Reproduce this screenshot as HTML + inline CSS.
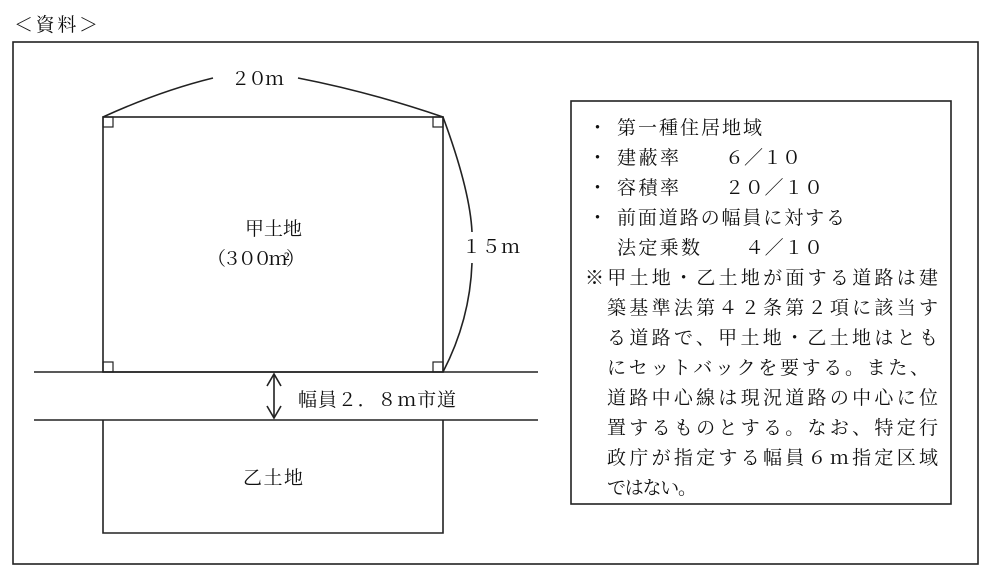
<!DOCTYPE html>
<html><head><meta charset="utf-8"><style>
html,body{margin:0;padding:0;background:#fff;width:990px;height:581px;overflow:hidden}
svg text{font-family:"Liberation Serif","Noto Serif CJK SC","Noto Sans CJK JP",serif;fill:#111;font-size:19px}
</style></head><body>
<svg width="990" height="581" viewBox="0 0 990 581" xmlns="http://www.w3.org/2000/svg">
<g fill="none" stroke="#222" stroke-width="1.6">
<rect x="13" y="42" width="965" height="522"/>
<rect x="103" y="117" width="340" height="255"/>
<path d="M103 420 V533 H443 V420"/>
<line x1="34" y1="372" x2="538" y2="372"/>
<line x1="34" y1="420" x2="538" y2="420"/>
<rect x="103" y="117" width="10" height="10" stroke-width="1.2"/>
<rect x="433" y="117" width="10" height="10" stroke-width="1.2"/>
<rect x="103" y="362" width="10" height="10" stroke-width="1.2"/>
<rect x="433" y="362" width="10" height="10" stroke-width="1.2"/>
<path d="M103 117 Q160 91 213 78" />
<path d="M298 78 Q370 92 443 117" />
<path d="M443 117 Q470 190 472 232" />
<path d="M472 263 Q470 320 443 372" />
<line x1="274" y1="374" x2="274" y2="418"/>
<path d="M267 386 L274 374 L281 386 M267 406 L274 418 L281 406"/>
<rect x="571" y="101" width="380" height="403"/>
</g>
<text x="14" y="31" textLength="84">＜資料＞</text>
<text x="231" y="85" textLength="53">２０ｍ</text>
<text x="462" y="253" textLength="58">１５ｍ</text>
<text x="245" y="235" textLength="57">甲土地</text>
<text x="207" y="265" textLength="98">（３００ｍ²）</text>
<text x="298" y="406" textLength="158">幅員２．８ｍ市道</text>
<text x="243" y="484" textLength="60">乙土地</text>
<text x="588" y="134">・</text><text x="617" y="134" textLength="145">第一種住居地域</text>
<text x="588" y="164">・</text><text x="617" y="164" textLength="62">建蔽率</text><text x="725" y="164" textLength="76">６／１０</text>
<text x="588" y="194">・</text><text x="617" y="194" textLength="62">容積率</text><text x="725" y="194" textLength="98">２０／１０</text>
<text x="588" y="224">・</text><text x="617" y="224" textLength="228">前面道路の幅員に対する</text>
<text x="617" y="254" textLength="83">法定乗数</text><text x="745" y="254" textLength="78">４／１０</text>
<text x="585" y="284" textLength="353">※甲土地・乙土地が面する道路は建</text>
<text x="607" y="314" textLength="331">築基準法第４２条第２項に該当す</text>
<text x="607" y="344" textLength="331">る道路で、甲土地・乙土地はとも</text>
<text x="607" y="374" textLength="322">にセットバックを要する。また、</text>
<text x="607" y="404" textLength="331">道路中心線は現況道路の中心に位</text>
<text x="607" y="434" textLength="331">置するものとする。なお、特定行</text>
<text x="607" y="464" textLength="331">政庁が指定する幅員６ｍ指定区域</text>
<text x="607" y="494" textLength="90">ではない。</text>
</svg>
</body></html>
